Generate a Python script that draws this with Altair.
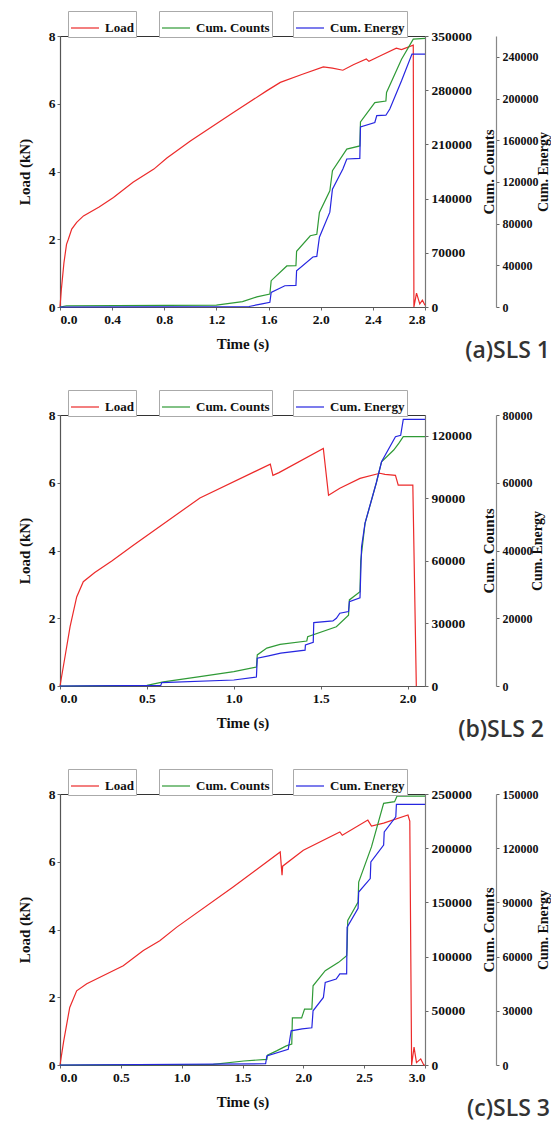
import altair as alt
import pandas as pd

# ---------------- Panel (a) SLS 1 ----------------
a_load_t = [0, 0.01, 0.03, 0.05, 0.064, 0.09, 0.128, 0.18, 0.3, 0.41, 0.56, 0.72, 0.82, 1.0, 1.33, 1.585,
            1.69, 1.86, 2.02, 2.09, 2.17, 2.25, 2.35, 2.37, 2.45, 2.58, 2.62, 2.71, 2.715, 2.735, 2.76,
            2.78, 2.8]
a_load_v = [0, 0.5, 1.3, 1.85, 2.0, 2.3, 2.5, 2.69, 2.95, 3.23, 3.68, 4.07, 4.4, 4.9, 5.74, 6.38,
            6.63, 6.87, 7.09, 7.05, 6.99, 7.15, 7.32, 7.25, 7.4, 7.64, 7.6, 7.73, 0.0, 0.41, 0.09,
            0.2, 0.05]
a_counts_t = [0, 0.05, 1.2, 1.4, 1.51, 1.61, 1.62, 1.74, 1.81, 1.815, 1.92, 1.97, 1.99, 2.07, 2.09,
              2.2, 2.3, 2.305, 2.415, 2.5, 2.505, 2.62, 2.71, 2.8]
a_counts_v = [0, 1500, 2500, 7000, 13000, 16800, 34000, 53000, 53500, 72000, 92000, 94000, 122000,
              150000, 176000, 204000, 208000, 239000, 264000, 266000, 277000, 320000, 346000, 347000]
a_energy_t = [0, 1.45, 1.55, 1.61, 1.62, 1.725, 1.81, 1.815, 1.94, 1.97, 1.99, 2.07, 2.09, 2.17, 2.2,
              2.3, 2.305, 2.415, 2.43, 2.5, 2.53, 2.62, 2.7, 2.8]
a_energy_v = [0, 500, 3000, 4500, 14000, 20400, 20800, 34800, 48000, 48500, 67000, 91000, 113000,
              132400, 142000, 142500, 172700, 177000, 183600, 184000, 190000, 217000, 242700, 242700]

# ---------------- Panel (b) SLS 2 ----------------
b_load_t = [0, 0.03, 0.058, 0.096, 0.134, 0.2, 0.3, 0.42, 0.805, 1.21, 1.225, 1.26, 1.515, 1.545,
            1.61, 1.726, 1.84, 1.87, 1.93, 1.946, 2.03, 2.05]
b_load_v = [0, 0.9, 1.75, 2.63, 3.08, 3.35, 3.7, 4.15, 5.55, 6.55, 6.22, 6.3, 7.01, 5.63,
            5.84, 6.13, 6.28, 6.25, 6.22, 5.93, 5.93, 0]
b_counts_t = [0, 0.5, 0.595, 0.805, 1.0, 1.13, 1.135, 1.19, 1.266, 1.42, 1.425, 1.59, 1.66, 1.665,
              1.726, 1.73, 1.755, 1.82, 1.85, 1.92, 1.95, 1.975, 2.1]
b_counts_v = [0, 300, 2000, 4500, 6900, 9100, 14900, 18200, 20000, 21600, 23600, 28400, 34000, 41300,
              45200, 60000, 78000, 97500, 107600, 113200, 116500, 119600, 119600]
b_energy_t = [0, 0.58, 0.585, 1.0, 1.13, 1.135, 1.2, 1.27, 1.41, 1.412, 1.457, 1.46, 1.57, 1.59, 1.61,
              1.66, 1.665, 1.726, 1.735, 1.755, 1.82, 1.85, 1.93, 1.96, 1.975, 2.1]
b_energy_v = [0, 200, 980, 1770, 2650, 8200, 8900, 9700, 10600, 12100, 12900, 18700, 19200, 20000,
              21500, 22000, 24900, 26000, 41100, 48100, 60000, 66200, 73600, 74000, 78700, 78700]

# ---------------- Panel (c) SLS 3 ----------------
c_load_t = [0, 0.03, 0.08, 0.137, 0.22, 0.52, 0.685, 0.82, 0.96, 1.42, 1.81, 1.825, 1.83, 2.0, 2.3,
            2.32, 2.53, 2.56, 2.66, 2.86, 2.875, 2.89, 2.91, 2.93, 2.965, 2.99, 3.0]
c_load_v = [0, 0.7, 1.7, 2.19, 2.4, 2.93, 3.38, 3.67, 4.07, 5.25, 6.29, 5.6, 5.87, 6.34, 6.88,
            6.78, 7.23, 7.05, 7.14, 7.38, 7.2, 0, 0.53, 0.07, 0.18, 0, 0]
c_counts_t = [0, 1.26, 1.51, 1.70, 1.705, 1.78, 1.86, 1.905, 1.91, 1.986, 2.01, 2.07, 2.08, 2.18,
              2.29, 2.356, 2.36, 2.365, 2.45, 2.455, 2.56, 2.66, 2.75, 2.77, 3.0]
c_counts_v = [0, 500, 3700, 5200, 9000, 13000, 17600, 19400, 43500, 43500, 51500, 51500, 73100, 87000,
              94700, 100900, 108600, 133300, 150300, 168800, 201200, 241400, 242900, 248000, 248000]
c_energy_t = [0, 1.69, 1.70, 1.876, 1.9, 1.99, 2.07, 2.08, 2.165, 2.18, 2.27, 2.30, 2.356, 2.36,
              2.45, 2.455, 2.55, 2.555, 2.66, 2.665, 2.76, 2.765, 3.0]
c_energy_v = [0, 700, 5000, 8700, 18900, 20000, 20600, 30000, 37400, 45700, 47600, 50400, 50400, 76300,
              86700, 95700, 103200, 112400, 121700, 129000, 137400, 144300, 144300]

# axis definitions
a_xticks = [0, 0.4, 0.8, 1.2, 1.6, 2.0, 2.4, 2.8]
b_xticks = [0, 0.5, 1.0, 1.5, 2.0]
c_xticks = [0, 0.5, 1.0, 1.5, 2.0, 2.5, 3.0]
load_ticks = [0, 2, 4, 6, 8]
a_cticks = [0, 70000, 140000, 210000, 280000, 350000]
b_cticks = [0, 30000, 60000, 90000, 120000]
c_cticks = [0, 50000, 100000, 150000, 200000, 250000]
a_eticks = [0, 40000, 80000, 120000, 160000, 200000, 240000]
b_eticks = [0, 20000, 40000, 60000, 80000]
c_eticks = [0, 30000, 60000, 90000, 120000, 150000]

RED = "#ec2a2a"
GREEN = "#2f9a36"
BLUE = "#2626e0"
SERIF = "Liberation Serif"
W, H = 365, 271


def frame(t, v, name):
    return pd.DataFrame({"t": t, "v": v, "i": list(range(len(t))), "s": name})


def legend(x):
    return alt.Legend(orient="none", legendX=x, legendY=-25, title=None,
                      symbolType="stroke", symbolSize=784, symbolStrokeWidth=1.2,
                      labelFont=SERIF, labelFontSize=13, labelFontWeight="bold",
                      labelColor="#111", labelOffset=5, padding=2,
                      strokeColor="#aaaaaa", fillColor="white")


def panel(load, counts, energy, xmax, xticks, cmax, cticks, emax, eticks, label):
    x = alt.X("t:Q", scale=alt.Scale(domain=[0, xmax], nice=False, zero=False),
              axis=alt.Axis(values=xticks, format=".1f", title="Time (s)"))
    l_load = alt.Chart(frame(*load, "Load")).mark_line(strokeWidth=1.2).encode(
        x=x,
        y=alt.Y("v:Q", scale=alt.Scale(domain=[0, 8], nice=False),
                axis=alt.Axis(values=load_ticks, title="Load (kN)", orient="left",
                              titlePadding=16)),
        color=alt.Color("s:N", scale=alt.Scale(domain=["Load"], range=[RED]), legend=legend(8)),
        order="i:Q")
    l_counts = alt.Chart(frame(*counts, "Cum. Counts")).mark_line(strokeWidth=1.2).encode(
        x=x,
        y=alt.Y("v:Q", scale=alt.Scale(domain=[0, cmax], nice=False),
                axis=alt.Axis(values=cticks, format="d", title="Cum. Counts", orient="right",
                              titleAngle=270, titlePadding=25, domainColor="#777",
                              labelPadding=3)),
        color=alt.Color("s:N", scale=alt.Scale(domain=["Cum. Counts"], range=[GREEN]),
                        legend=legend(99)),
        order="i:Q")
    l_energy = alt.Chart(frame(*energy, "Cum. Energy")).mark_line(strokeWidth=1.2).encode(
        x=x,
        y=alt.Y("v:Q", scale=alt.Scale(domain=[0, emax], nice=False),
                axis=alt.Axis(values=eticks, format="d", title="Cum. Energy", orient="right",
                              offset=71, titleAngle=270, titlePadding=12, domainColor="#888",
                              labelPadding=3, labelFontSize=12, titleFontSize=14)),
        color=alt.Color("s:N", scale=alt.Scale(domain=["Cum. Energy"], range=[BLUE]),
                        legend=legend(233)),
        order="i:Q")
    return alt.layer(l_load, l_counts, l_energy).resolve_scale(
        y="independent", color="independent").properties(
        width=W, height=H,
        title=alt.TitleParams(label, orient="bottom", anchor="end", frame="bounds",
                              font="Open Sans", fontSize=23, fontWeight=600,
                              color="#333333", offset=-11, dx=0))


pa = panel((a_load_t, a_load_v), (a_counts_t, a_counts_v), (a_energy_t, a_energy_v),
           2.8, a_xticks, 350000, a_cticks, 260000, a_eticks, "(a)SLS 1")
pb = panel((b_load_t, b_load_v), (b_counts_t, b_counts_v), (b_energy_t, b_energy_v),
           2.1, b_xticks, 130000, b_cticks, 80000, b_eticks, "(b)SLS 2")
pc = panel((c_load_t, c_load_v), (c_counts_t, c_counts_v), (c_energy_t, c_energy_v),
           3.0, c_xticks, 250000, c_cticks, 150000, c_eticks, "(c)SLS 3")

chart = alt.vconcat(pa, pb, pc, spacing=25).properties(
    padding={"left": 8, "top": 2, "right": 0, "bottom": 0}
).configure_view(stroke="#333333", strokeWidth=1).configure_axis(
    labelFont=SERIF, labelFontSize=13.5, labelFontWeight="bold", labelColor="#111",
    titleFont=SERIF, titleFontSize=15, titleFontWeight="bold", titleColor="#111",
    domainColor="#555555", domainWidth=1.2, tickColor="#666666", tickSize=3,
    labelPadding=2, grid=False
).configure_axisX(titlePadding=10, labelPadding=2.5)

chart.save("out.html", embed_options={"renderer": "svg", "actions": False})
